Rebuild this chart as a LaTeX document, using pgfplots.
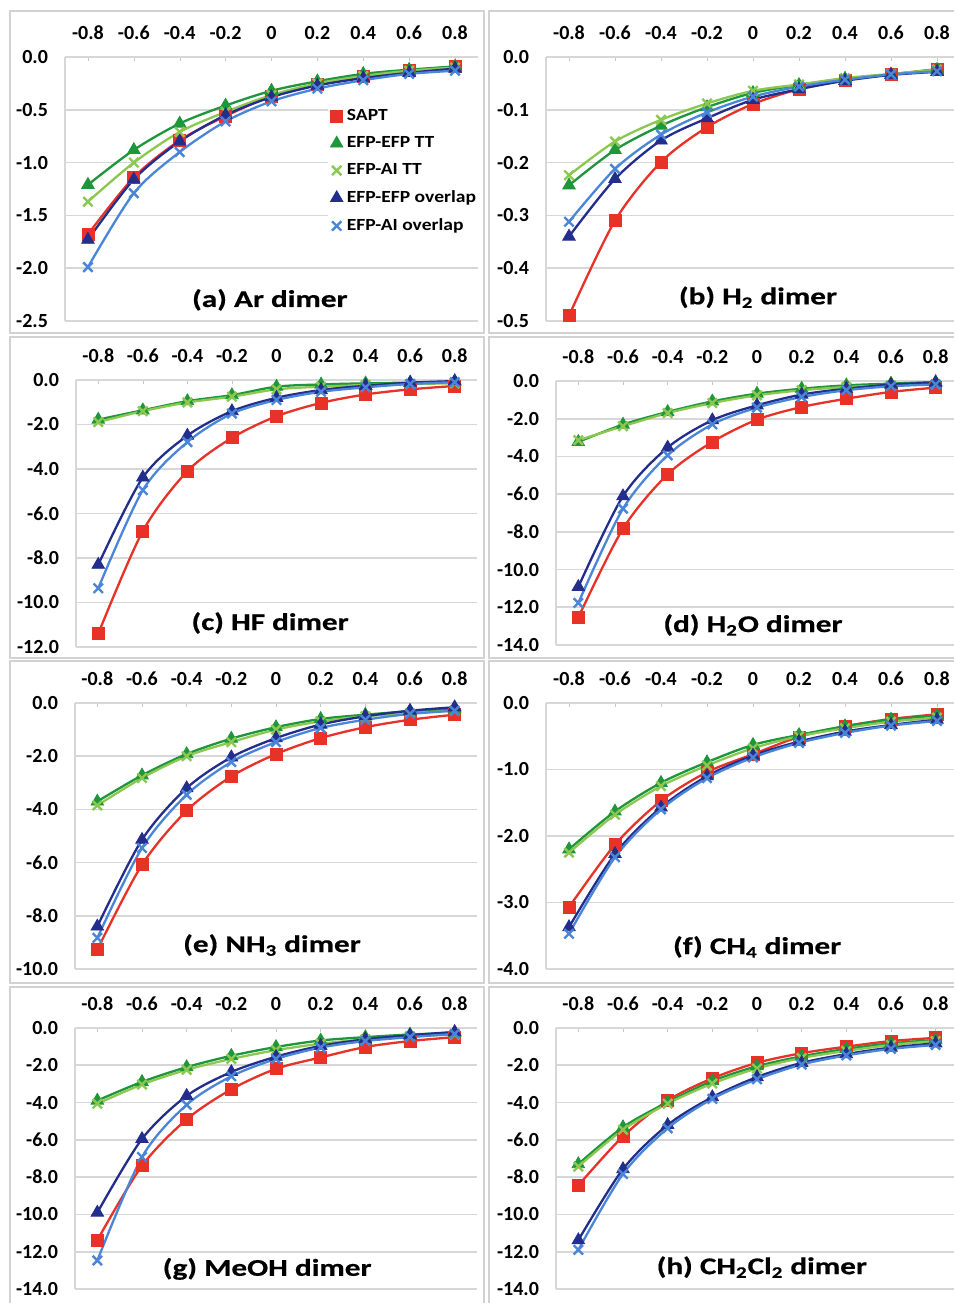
\documentclass[border=0pt]{standalone}
\usepackage{fontspec}
\usepackage{pgfplots}
\usepackage{pgfplotstable}
\pgfplotsset{compat=1.18}
\setmainfont{Carlito}
\newfontfamily\widefont{Carlito}[FakeStretch=1.3, BoldFeatures={FakeBold=0.6}]
\newfontfamily\legfont{Carlito}[FakeStretch=1.15]

\definecolor{saptred}{RGB}{232,50,40}
\definecolor{eegreen}{RGB}{30,150,60}
\definecolor{eagreen}{RGB}{140,200,80}
\definecolor{eeblue}{RGB}{35,45,140}
\definecolor{eablue}{RGB}{74,134,216}
\definecolor{gridgray}{RGB}{215,215,215}
\definecolor{framegray}{RGB}{210,210,210}

% panel data: x, SAPT, EFP-EFP TT, EFP-AI TT, EFP-EFP overlap, EFP-AI overlap
\pgfplotstableread{
x sapt eett eatt eeov eaov
-0.8 -1.68 -1.21 -1.37 -1.73 -1.99
-0.6 -1.14 -0.88 -1.00 -1.16 -1.29
-0.4 -0.79 -0.63 -0.71 -0.80 -0.90
-0.2 -0.56 -0.46 -0.52 -0.55 -0.61
0 -0.37 -0.32 -0.36 -0.38 -0.42
0.2 -0.26 -0.23 -0.25 -0.27 -0.30
0.4 -0.18 -0.16 -0.18 -0.20 -0.22
0.6 -0.13 -0.12 -0.13 -0.15 -0.16
0.8 -0.09 -0.09 -0.10 -0.11 -0.13
}\tA
\pgfplotstableread{
x sapt eett eatt eeov eaov
-0.8 -0.490 -0.243 -0.224 -0.340 -0.312
-0.6 -0.310 -0.176 -0.160 -0.231 -0.212
-0.4 -0.199 -0.130 -0.119 -0.158 -0.147
-0.2 -0.133 -0.095 -0.088 -0.116 -0.105
0 -0.089 -0.068 -0.064 -0.081 -0.075
0.2 -0.061 -0.053 -0.052 -0.061 -0.056
0.4 -0.044 -0.041 -0.040 -0.045 -0.043
0.6 -0.033 -0.033 -0.032 -0.034 -0.033
0.8 -0.023 -0.024 -0.024 -0.028 -0.027
}\tB
\pgfplotstableread{
x sapt eett eatt eeov eaov
-0.8 -11.40 -1.78 -1.89 -8.30 -9.36
-0.6 -6.79 -1.36 -1.40 -4.38 -4.95
-0.4 -4.10 -0.95 -1.01 -2.50 -2.79
-0.2 -2.60 -0.68 -0.75 -1.40 -1.51
0 -1.63 -0.30 -0.42 -0.80 -0.90
0.2 -1.03 -0.20 -0.30 -0.45 -0.53
0.4 -0.65 -0.15 -0.23 -0.26 -0.33
0.6 -0.42 -0.12 -0.18 -0.12 -0.18
0.8 -0.27 -0.10 -0.15 -0.05 -0.10
}\tC
\pgfplotstableread{
x sapt eett eatt eeov eaov
-0.8 -12.54 -3.23 -3.14 -10.92 -11.77
-0.6 -7.83 -2.31 -2.40 -6.11 -6.77
-0.4 -4.95 -1.64 -1.70 -3.53 -3.94
-0.2 -3.23 -1.08 -1.17 -2.08 -2.30
0 -2.05 -0.67 -0.76 -1.29 -1.41
0.2 -1.38 -0.41 -0.49 -0.72 -0.85
0.4 -0.94 -0.23 -0.32 -0.41 -0.49
0.6 -0.58 -0.14 -0.23 -0.19 -0.28
0.8 -0.35 -0.05 -0.18 -0.09 -0.18
}\tD
\pgfplotstableread{
x sapt eett eatt eeov eaov
-0.8 -9.27 -3.70 -3.85 -8.40 -8.83
-0.6 -6.08 -2.72 -2.82 -5.14 -5.45
-0.4 -4.05 -1.92 -2.00 -3.20 -3.45
-0.2 -2.76 -1.34 -1.47 -2.04 -2.22
0 -1.92 -0.91 -1.00 -1.32 -1.47
0.2 -1.32 -0.60 -0.69 -0.81 -0.94
0.4 -0.91 -0.44 -0.50 -0.50 -0.63
0.6 -0.63 -0.31 -0.38 -0.29 -0.41
0.8 -0.44 -0.23 -0.29 -0.16 -0.29
}\tE
\pgfplotstableread{
x sapt eett eatt eeov eaov
-0.8 -3.07 -2.20 -2.25 -3.37 -3.47
-0.6 -2.13 -1.63 -1.68 -2.27 -2.32
-0.4 -1.47 -1.20 -1.25 -1.57 -1.60
-0.2 -1.04 -0.89 -0.94 -1.10 -1.13
0 -0.77 -0.63 -0.68 -0.79 -0.82
0.2 -0.51 -0.48 -0.50 -0.58 -0.60
0.4 -0.35 -0.35 -0.38 -0.43 -0.45
0.6 -0.24 -0.25 -0.28 -0.33 -0.34
0.8 -0.17 -0.19 -0.22 -0.25 -0.27
}\tF
\pgfplotstableread{
x sapt eett eatt eeov eaov
-0.8 -11.38 -3.89 -4.06 -9.90 -12.47
-0.6 -7.39 -2.89 -3.03 -5.95 -6.92
-0.4 -4.90 -2.10 -2.24 -3.64 -4.12
-0.2 -3.29 -1.49 -1.66 -2.36 -2.59
0 -2.19 -1.02 -1.19 -1.54 -1.66
0.2 -1.58 -0.67 -0.84 -0.96 -1.05
0.4 -1.02 -0.49 -0.61 -0.61 -0.70
0.6 -0.70 -0.35 -0.44 -0.39 -0.49
0.8 -0.49 -0.26 -0.35 -0.21 -0.32
}\tG
\pgfplotstableread{
x sapt eett eatt eeov eaov
-0.8 -8.44 -7.30 -7.43 -11.38 -11.90
-0.6 -5.81 -5.32 -5.46 -7.57 -7.83
-0.4 -3.89 -3.98 -4.06 -5.20 -5.38
-0.2 -2.70 -2.84 -2.98 -3.71 -3.80
0 -1.87 -2.05 -2.17 -2.63 -2.75
0.2 -1.35 -1.52 -1.61 -1.87 -1.96
0.4 -1.00 -1.12 -1.23 -1.40 -1.47
0.6 -0.70 -0.82 -0.91 -1.05 -1.12
0.8 -0.53 -0.65 -0.70 -0.82 -0.91
}\tH

\pgfplotsset{
  panel/.style={
    scale only axis, anchor=south west, clip=false,
    xmin=-0.9, xmax=0.9, ymax=0,
    axis x line*=top, axis y line*=left,
    axis line style={draw=gridgray, line width=0.8pt},
    xtick={-0.8,-0.6,-0.4,-0.2,0,0.2,0.4,0.6,0.8},
    xticklabels={-0.8,-0.6,-0.4,-0.2,0,0.2,0.4,0.6,0.8},
    xtick style={draw=gray!45}, major tick length=2pt,
    ytick style={draw=none},
    ymajorgrids, major grid style={draw=gridgray, line width=0.8pt},
    /pgf/number format/.cd, fixed, fixed zerofill, precision=1, assume math mode=true,
    /pgfplots/.cd,
    xticklabel style={font=\bfseries\fontsize{10}{12}\selectfont, yshift=5pt},
    yticklabel style={font=\bfseries\fontsize{10}{12}\selectfont, xshift=-5pt},
    every axis plot/.append style={line width=1.15pt, smooth, tension=0.5},
  },
  sapt/.style={color=saptred, mark=square*, mark size=3pt, mark options={line width=0.4pt}},
  eett/.style={color=eegreen, mark=triangle*, mark size=3.6pt, mark options={line width=0.4pt}},
  eatt/.style={color=eagreen, mark=x, mark size=3.3pt, mark options={line width=1.2pt}},
  eeov/.style={color=eeblue, mark=triangle*, mark size=3.6pt, mark options={line width=0.4pt}},
  eaov/.style={color=eablue, mark=x, mark size=3.3pt, mark options={line width=1.2pt}},
}
\newcommand{\paneltitle}[3]{\node[font=\widefont\bfseries\fontsize{12}{14}\selectfont] at (rel axis cs:#1,#2) {#3};}
\newcommand{\allplots}[1]{%
  \addplot[sapt] table[x=x,y=sapt]{#1};
  \addplot[eett] table[x=x,y=eett]{#1};
  \addplot[eatt] table[x=x,y=eatt]{#1};
  \addplot[eeov] table[x=x,y=eeov]{#1};
  \addplot[eaov] table[x=x,y=eaov]{#1};
}

\begin{document}
\begin{tikzpicture}
\useasboundingbox (0,0) rectangle (477pt,651.5pt);
\fill[white] (0,0) rectangle (477pt,651.5pt);
% panel frames
\foreach \ya/\yb in {485/646, 322.5/483, 160/321, -2/158}{
  \draw[framegray, line width=0.6pt] (5pt,\ya pt) rectangle (242pt,\yb pt);
  \draw[framegray, line width=0.6pt] (244.5pt,\ya pt) rectangle (480pt,\yb pt);
}

% (a)
\begin{axis}[panel, at={(32.5pt,491pt)}, width=206.5pt, height=132pt,
  ymin=-2.5, ytick={-2.5,-2,-1.5,-1,-0.5,0},
  legend style={at={(0.637,0.826)}, anchor=north west, draw=none, fill=white,
    font=\legfont\bfseries\fontsize{8.5}{10}\selectfont, row sep=2.5pt, inner sep=1pt,
    cells={anchor=west}},
  legend image code/.code={\draw[#1,only marks] plot coordinates {(0.12cm,0cm)};}]
\allplots{\tA}
\legend{SAPT, EFP-EFP TT, EFP-AI TT, EFP-EFP overlap, EFP-AI overlap}
\paneltitle{0.496}{0.08}{(a) Ar dimer}
\end{axis}

% (b)
\begin{axis}[panel, at={(273pt,491pt)}, width=207pt, height=132pt,
  ymin=-0.5, ytick={-0.5,-0.4,-0.3,-0.2,-0.1,0}]
\allplots{\tB}
\paneltitle{0.512}{0.09}{(b) H\textsubscript{2} dimer}
\end{axis}

% (c)
\begin{axis}[panel, at={(38pt,328pt)}, width=200.5pt, height=133.5pt,
  ymin=-12, ytick={-12,-10,-8,-6,-4,-2,0}]
\allplots{\tC}
\paneltitle{0.484}{0.09}{(c) HF dimer}
\end{axis}

% (d)
\begin{axis}[panel, at={(278pt,329pt)}, width=201pt, height=132pt,
  ymin=-14, ytick={-14,-12,-10,-8,-6,-4,-2,0}]
\allplots{\tD}
\paneltitle{0.49}{0.076}{(d) H\textsubscript{2}O dimer}
\end{axis}

% (e)
\begin{axis}[panel, at={(37.5pt,167pt)}, width=201pt, height=133pt,
  ymin=-10, ytick={-10,-8,-6,-4,-2,0}]
\allplots{\tE}
\paneltitle{0.49}{0.09}{(e) NH\textsubscript{3} dimer}
\end{axis}

% (f)
\begin{axis}[panel, at={(273pt,167pt)}, width=207pt, height=133pt,
  ymin=-4, ytick={-4,-3,-2,-1,0}]
\allplots{\tF}
\paneltitle{0.51}{0.083}{(f) CH\textsubscript{4} dimer}
\end{axis}

% (g)
\begin{axis}[panel, at={(37.5pt,7pt)}, width=201pt, height=130.5pt,
  ymin=-14, ytick={-14,-12,-10,-8,-6,-4,-2,0}]
\allplots{\tG}
\paneltitle{0.478}{0.077}{(g) MeOH dimer}
\end{axis}

% (h)
\begin{axis}[panel, at={(278pt,7pt)}, width=201pt, height=130.5pt,
  ymin=-14, ytick={-14,-12,-10,-8,-6,-4,-2,0}]
\allplots{\tH}
\paneltitle{0.512}{0.084}{(h) CH\textsubscript{2}Cl\textsubscript{2} dimer}
\end{axis}
\end{tikzpicture}
\end{document}
